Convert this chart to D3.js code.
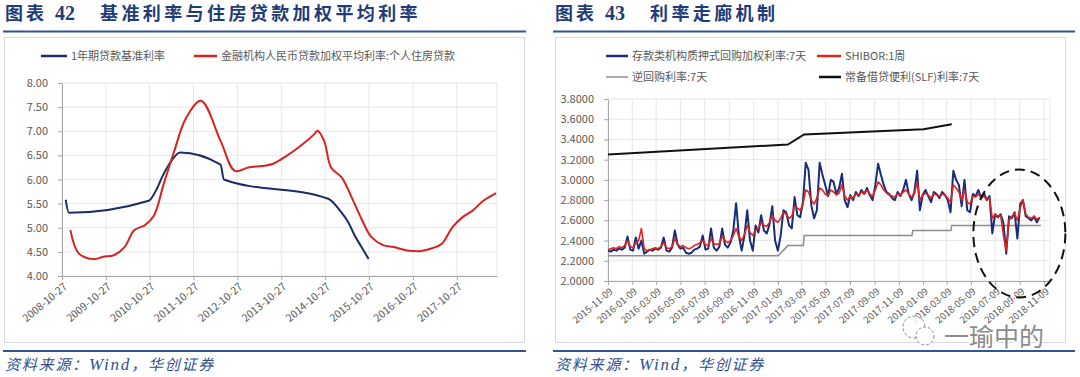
<!DOCTYPE html>
<html lang="zh">
<head>
<meta charset="UTF-8" />
<title>利率</title>
<style>
  body { margin: 0; background: #fff; }
  svg text { font-family: "Noto Sans CJK SC", "Noto Sans", sans-serif; }
</style>
</head>
<body>
<svg id="svg" width="1080" height="377"></svg>
<script src="https://cdn.jsdelivr.net/npm/d3@7/dist/d3.min.js"></script>
<script>
// ---------- left chart: 基准利率与住房贷款加权平均利率 ----------
const leftXTicks = ['2008-10-27', '2009-10-27', '2010-10-27', '2011-10-27', '2012-10-27',
  '2013-10-27', '2014-10-27', '2015-10-27', '2016-10-27', '2017-10-27'];
const leftYTicks = [4.0, 4.5, 5.0, 5.5, 6.0, 6.5, 7.0, 7.5, 8.0];

// 1年期贷款基准利率
const benchDates = ['2008-11-27', '2008-12-23', '2010-10-20', '2010-12-26', '2011-02-09',
  '2011-04-06', '2011-07-07', '2012-06-08', '2012-07-06', '2014-11-22', '2015-03-01',
  '2015-05-11', '2015-06-28', '2015-08-26', '2015-10-24'];
const benchValues = [5.58, 5.31, 5.56, 5.81, 6.06, 6.31, 6.56, 6.31, 6.00, 5.60, 5.35,
  5.10, 4.85, 4.60, 4.35];

// 金融机构人民币贷款加权平均利率:个人住房贷款
const mortgageDates = ['2009-01-05', '2009-03-15', '2009-07-15', '2009-10-05', '2010-01-01',
  '2010-04-01', '2010-06-20', '2010-09-15', '2010-12-01', '2011-02-20', '2011-05-20',
  '2011-08-25', '2011-12-28', '2012-06-10', '2012-10-05', '2013-01-25', '2013-05-20',
  '2013-08-15', '2013-12-10', '2014-04-01', '2014-07-25', '2014-08-25', '2014-10-20',
  '2014-12-15', '2015-03-15', '2015-06-05', '2015-09-01', '2015-11-15', '2016-02-20',
  '2016-05-20', '2016-09-10', '2017-01-05', '2017-03-30', '2017-06-25', '2017-09-20',
  '2017-12-15', '2018-03-10', '2018-06-05', '2018-09-20'];
const mortgageValues = [4.95, 4.47, 4.35, 4.40, 4.43, 4.60, 4.95, 5.05, 5.25, 5.90, 6.59,
  7.27, 7.63, 6.79, 6.18, 6.25, 6.28, 6.32, 6.49, 6.69, 6.93, 7.01, 6.79, 6.25, 6.04,
  5.63, 5.15, 4.81, 4.64, 4.60, 4.53, 4.52, 4.57, 4.67, 5.01, 5.22, 5.36, 5.56, 5.72];

// ---------- right chart: 利率走廊机制 ----------
const rightXTicks = ['2015-11-09', '2016-01-09', '2016-03-09', '2016-05-09', '2016-07-09',
  '2016-09-09', '2016-11-09', '2017-01-09', '2017-03-09', '2017-05-09', '2017-07-09',
  '2017-09-09', '2017-11-09', '2018-01-09', '2018-03-09', '2018-05-09', '2018-07-09',
  '2018-09-09', '2018-11-09'];
const rightYTicks = [2.0, 2.2, 2.4, 2.6, 2.8, 3.0, 3.2, 3.4, 3.6, 3.8];

// weekly observations starting from this date
const weeklyStart = '2015-11-09';
// 存款类机构质押式回购加权利率:7天
const dr007 = [
  2.30, 2.29, 2.31, 2.30, 2.32, 2.31, 2.33, 2.44, 2.31, 2.30,
  2.43, 2.32, 2.40, 2.27, 2.29, 2.31, 2.30, 2.32, 2.31, 2.33,
  2.43, 2.30, 2.29, 2.33, 2.50, 2.36, 2.32, 2.33, 2.28, 2.27,
  2.28, 2.31, 2.32, 2.34, 2.45, 2.31, 2.32, 2.52, 2.33, 2.30,
  2.34, 2.52, 2.36, 2.33, 2.38, 2.50, 2.77, 2.45, 2.30, 2.45,
  2.70, 2.40, 2.30, 2.55, 2.48, 2.65, 2.50, 2.47, 2.56, 2.74,
  2.40, 2.30, 2.45, 2.70, 2.68, 2.55, 2.52, 2.83, 2.65, 2.63,
  2.78, 3.17, 3.10, 2.75, 2.62, 2.70, 3.17, 3.05, 2.95, 2.84,
  3.00, 2.98, 2.86, 2.92, 3.06, 2.80, 2.73, 2.85, 2.80, 2.88,
  2.84, 2.90, 2.86, 2.92, 2.85, 2.80, 2.95, 3.16, 3.05, 2.95,
  2.88, 2.86, 2.82, 2.80, 2.88, 2.84, 2.90, 3.00, 2.86, 2.80,
  2.88, 3.09, 2.70, 2.85, 2.90, 2.84, 2.78, 2.88, 2.86, 2.82,
  2.88, 2.85, 2.80, 2.68, 3.09, 3.00, 2.95, 2.74, 3.00, 2.70,
  2.68, 2.86, 2.84, 2.90, 2.82, 2.87, 2.80, 2.84, 2.47, 2.66,
  2.63, 2.66, 2.57, 2.27, 2.64, 2.62, 2.68, 2.42, 2.76, 2.80,
  2.64, 2.62, 2.60, 2.64, 2.58, 2.63];
// SHIBOR:1周
const shibor1w = [
  2.31, 2.32, 2.33, 2.32, 2.34, 2.33, 2.35, 2.40, 2.34, 2.33,
  2.38, 2.40, 2.52, 2.32, 2.30, 2.31, 2.32, 2.33, 2.32, 2.34,
  2.38, 2.33, 2.32, 2.34, 2.42, 2.36, 2.34, 2.35, 2.33, 2.32,
  2.33, 2.35, 2.36, 2.38, 2.40, 2.36, 2.35, 2.42, 2.37, 2.36,
  2.37, 2.44, 2.40, 2.38, 2.40, 2.45, 2.52, 2.44, 2.40, 2.46,
  2.55, 2.48, 2.45, 2.50, 2.52, 2.58, 2.55, 2.54, 2.58, 2.65,
  2.60, 2.58, 2.62, 2.68, 2.66, 2.62, 2.64, 2.74, 2.72, 2.70,
  2.76, 2.90, 2.88, 2.80, 2.76, 2.82, 2.92, 2.90, 2.86, 2.84,
  2.90, 2.88, 2.85, 2.87, 2.95, 2.84, 2.80, 2.84, 2.82, 2.86,
  2.85, 2.88, 2.86, 2.90, 2.86, 2.84, 2.90, 2.98, 2.95, 2.90,
  2.87, 2.85, 2.84, 2.83, 2.86, 2.85, 2.88, 2.90, 2.86, 2.83,
  2.86, 2.98, 2.80, 2.85, 2.87, 2.85, 2.82, 2.86, 2.85, 2.84,
  2.86, 2.85, 2.82, 2.78, 2.95, 2.92, 2.88, 2.80, 2.90, 2.78,
  2.76, 2.84, 2.83, 2.86, 2.82, 2.84, 2.80, 2.82, 2.62, 2.66,
  2.64, 2.65, 2.45, 2.30, 2.60, 2.64, 2.67, 2.60, 2.72, 2.80,
  2.66, 2.63, 2.62, 2.64, 2.61, 2.63];

// 逆回购利率:7天
const repoDates = ['2015-11-09', '2017-01-10', '2017-02-03', '2017-03-14', '2017-03-16',
  '2017-12-12', '2017-12-14', '2018-03-20', '2018-03-22', '2018-11-01'];
const repoValues = [2.25, 2.25, 2.35, 2.35, 2.45, 2.45, 2.50, 2.50, 2.55, 2.55];

// 常备借贷便利(SLF)利率:7天
const slfDates = ['2015-11-09', '2017-02-03', '2017-03-16', '2018-01-10', '2018-03-22'];
const slfValues = [3.25, 3.35, 3.45, 3.50, 3.55];

// ---------- drawing ----------
const parse = d3.timeParse('%Y-%m-%d');
const fmtDate = d3.timeFormat('%Y-%m-%d');
const svg = d3.select('#svg');
svg.append('rect').attr('width', 1080).attr('height', 377).attr('fill', '#fff');

const titleBlue = '#1f3c78';
const ruleBlue = '#2f5597';
const gridColor = '#e7e7e7';
const axisColor = '#a6a6a6';
const labelColor = '#595959';

function panel(x0, ruleW, frameX, frameW, num, title) {
  const g = svg.append('g');
  const t = g.append('text').attr('y', 20).attr('fill', titleBlue)
    .attr('font-weight', 700).attr('font-size', 18);
  t.append('tspan').attr('x', x0 + 2).attr('letter-spacing', 3).text('图表');
  t.append('tspan').attr('x', x0 + 52)
    .attr('font-family', '"Liberation Serif", serif').attr('font-size', 20).text(num);
  t.append('tspan').attr('x', x0 + 97).attr('letter-spacing', 3.4).text(title);
  g.append('line').attr('x1', x0).attr('x2', x0 + ruleW).attr('y1', 31.5).attr('y2', 31.5)
    .attr('stroke', ruleBlue).attr('stroke-width', 2);
  g.append('rect').attr('x', frameX + 0.5).attr('y', 37.5).attr('width', frameW).attr('height', 305)
    .attr('fill', 'none').attr('stroke', '#d9d9d9');
  g.append('line').attr('x1', x0).attr('x2', x0 + ruleW).attr('y1', 351).attr('y2', 351)
    .attr('stroke', ruleBlue).attr('stroke-width', 2);
  const f = g.append('text').attr('x', x0 + 2).attr('y', 370).attr('fill', '#2f4f8f')
    .attr('font-size', 15).attr('font-style', 'italic').attr('letter-spacing', 1.8);
  f.append('tspan').text('资料来源：');
  f.append('tspan').attr('font-family', '"Liberation Serif", serif').attr('font-size', 17).text('Wind');
  f.append('tspan').text('，华创证券');
}

function legendItem(x, y, color, width, label, lineLen) {
  svg.append('line').attr('x1', x).attr('x2', x + lineLen).attr('y1', y).attr('y2', y)
    .attr('stroke', color).attr('stroke-width', width);
  svg.append('text').attr('x', x + lineLen + 4).attr('y', y).attr('dy', '0.35em')
    .attr('font-size', 11).attr('fill', labelColor).text(label);
}

function styleAxis(sel) {
  sel.select('.domain').attr('stroke', axisColor);
  sel.selectAll('.tick line').attr('stroke', axisColor);
  sel.selectAll('.tick text').attr('fill', labelColor)
    .attr('font-family', '"Open Sans", sans-serif');
}

function grid(x, y, xTicks, yTicks, xEnd) {
  const g = svg.append('g');
  const [x0, x1] = x.range();
  const [y0, y1] = y.range();
  g.selectAll('.hg').data(yTicks).join('line')
    .attr('x1', x0).attr('x2', x1).attr('y1', d => y(d)).attr('y2', d => y(d))
    .attr('stroke', gridColor);
  g.selectAll('.vg').data(xTicks.concat([xEnd])).join('line')
    .attr('x1', d => x(d)).attr('x2', d => x(d)).attr('y1', y0).attr('y2', y1)
    .attr('stroke', gridColor);
}

function axes(x, y, xTicks, yTicks, yFmt, xFont) {
  const [y0] = y.range();
  const [x0] = x.range();
  svg.append('g').attr('transform', `translate(0,${y0})`)
    .call(d3.axisBottom(x).tickValues(xTicks).tickFormat(fmtDate).tickSize(4).tickSizeOuter(0))
    .call(styleAxis)
    .call(s => s.selectAll('.tick text')
      .attr('font-size', xFont).attr('text-anchor', 'end')
      .attr('x', 0).attr('y', 0).attr('dy', '0.35em')
      .attr('transform', 'translate(3,9) rotate(-40)'));
  svg.append('g').attr('transform', `translate(${x0},0)`)
    .call(d3.axisLeft(y).tickValues(yTicks).tickFormat(yFmt).tickSize(4).tickPadding(10).tickSizeOuter(0))
    .call(styleAxis)
    .call(s => s.selectAll('.tick text').attr('font-size', 11));
}

// ----- left panel -----
panel(3, 523, 4, 520, '42', '基准利率与住房贷款加权平均利率');

const xL = d3.scaleTime().domain([parse('2008-10-27'), parse('2018-09-27')]).range([62, 497]);
const yL = d3.scaleLinear().domain([4, 8]).range([276, 83]);
const leftTickDates = leftXTicks.map(parse);
grid(xL, yL, leftTickDates, leftYTicks, xL.domain()[1]);
axes(xL, yL, leftTickDates, leftYTicks, d3.format('.2f'), 10.5);

const bench = benchDates.map((d, i) => ({ date: parse(d), value: benchValues[i] }));
const mortgage = mortgageDates.map((d, i) => ({ date: parse(d), value: mortgageValues[i] }));

const lineL = d3.line().x(d => xL(d.date)).y(d => yL(d.value));
svg.append('path').attr('d', lineL.curve(d3.curveMonotoneX)(bench))
  .attr('fill', 'none').attr('stroke', '#1b2c66').attr('stroke-width', 2);
svg.append('path').attr('d', lineL.curve(d3.curveCatmullRom.alpha(0.5))(mortgage))
  .attr('fill', 'none').attr('stroke', '#d8221f').attr('stroke-width', 2);

legendItem(41, 56, '#1b2c66', 2.5, '1年期贷款基准利率', 26);
legendItem(194, 56, '#d8221f', 2.5, '金融机构人民币贷款加权平均利率:个人住房贷款', 23);

// ----- right panel -----
panel(553, 522, 555, 510, '43', '利率走廊机制');

const xR = d3.scaleTime().domain([parse('2015-11-09'), parse('2018-11-24')]).range([608, 1050]);
const yR = d3.scaleLinear().domain([2, 3.8]).range([281, 99]);
const rightTickDates = rightXTicks.map(parse);
grid(xR, yR, rightTickDates, rightYTicks, xR.domain()[1]);
axes(xR, yR, rightTickDates, rightYTicks, d3.format('.4f'), 9.5);

const start = parse(weeklyStart);
const weekly = arr => arr.map((v, i) => ({ date: d3.timeDay.offset(start, 7 * i), value: v }));
const repo = repoDates.map((d, i) => ({ date: parse(d), value: repoValues[i] }));
const slf = slfDates.map((d, i) => ({ date: parse(d), value: slfValues[i] }));

const lineR = d3.line().x(d => xR(d.date)).y(d => yR(d.value));
svg.append('path').attr('d', lineR(repo))
  .attr('fill', 'none').attr('stroke', '#8c8c8c').attr('stroke-width', 1.5);
svg.append('path').attr('d', lineR(weekly(dr007)))
  .attr('fill', 'none').attr('stroke', '#1a2d78').attr('stroke-width', 2).attr('stroke-linejoin', 'round');
svg.append('path').attr('d', lineR(weekly(shibor1w)))
  .attr('fill', 'none').attr('stroke', '#e3241d').attr('stroke-width', 1.6).attr('stroke-linejoin', 'round');
svg.append('path').attr('d', lineR(slf))
  .attr('fill', 'none').attr('stroke', '#111').attr('stroke-width', 2);

legendItem(606, 56, '#1a2d78', 2.5, '存款类机构质押式回购加权利率:7天', 22);
legendItem(817, 56, '#e3241d', 2.5, 'SHIBOR:1周', 24);
legendItem(606, 77, '#8c8c8c', 1.5, '逆回购利率:7天', 22);
legendItem(819, 77, '#111', 2.5, '常备借贷便利(SLF)利率:7天', 22);

// dashed oval annotation around recent period
const ovalCx = xR(parse('2018-09-08'));
const ovalCy = yR(2.47);
svg.append('ellipse').attr('cx', ovalCx).attr('cy', ovalCy).attr('rx', 46).attr('ry', 64)
  .attr('fill', 'none').attr('stroke', '#111').attr('stroke-width', 2).attr('stroke-dasharray', '10,6');

// watermark
const wm = svg.append('g').attr('opacity', 0.85);
wm.append('circle').attr('cx', 914).attr('cy', 327).attr('r', 11)
  .attr('fill', '#fff').attr('stroke', '#777').attr('stroke-dasharray', '3,2');
wm.append('circle').attr('cx', 925).attr('cy', 336).attr('r', 9)
  .attr('fill', '#fff').attr('stroke', '#777').attr('stroke-dasharray', '3,2');
wm.append('text').attr('x', 944).attr('y', 346).attr('font-size', 25)
  .attr('fill', '#777').attr('stroke', '#fff').attr('stroke-width', 3).attr('paint-order', 'stroke')
  .text('一瑜中的');
</script>
</body>
</html>
